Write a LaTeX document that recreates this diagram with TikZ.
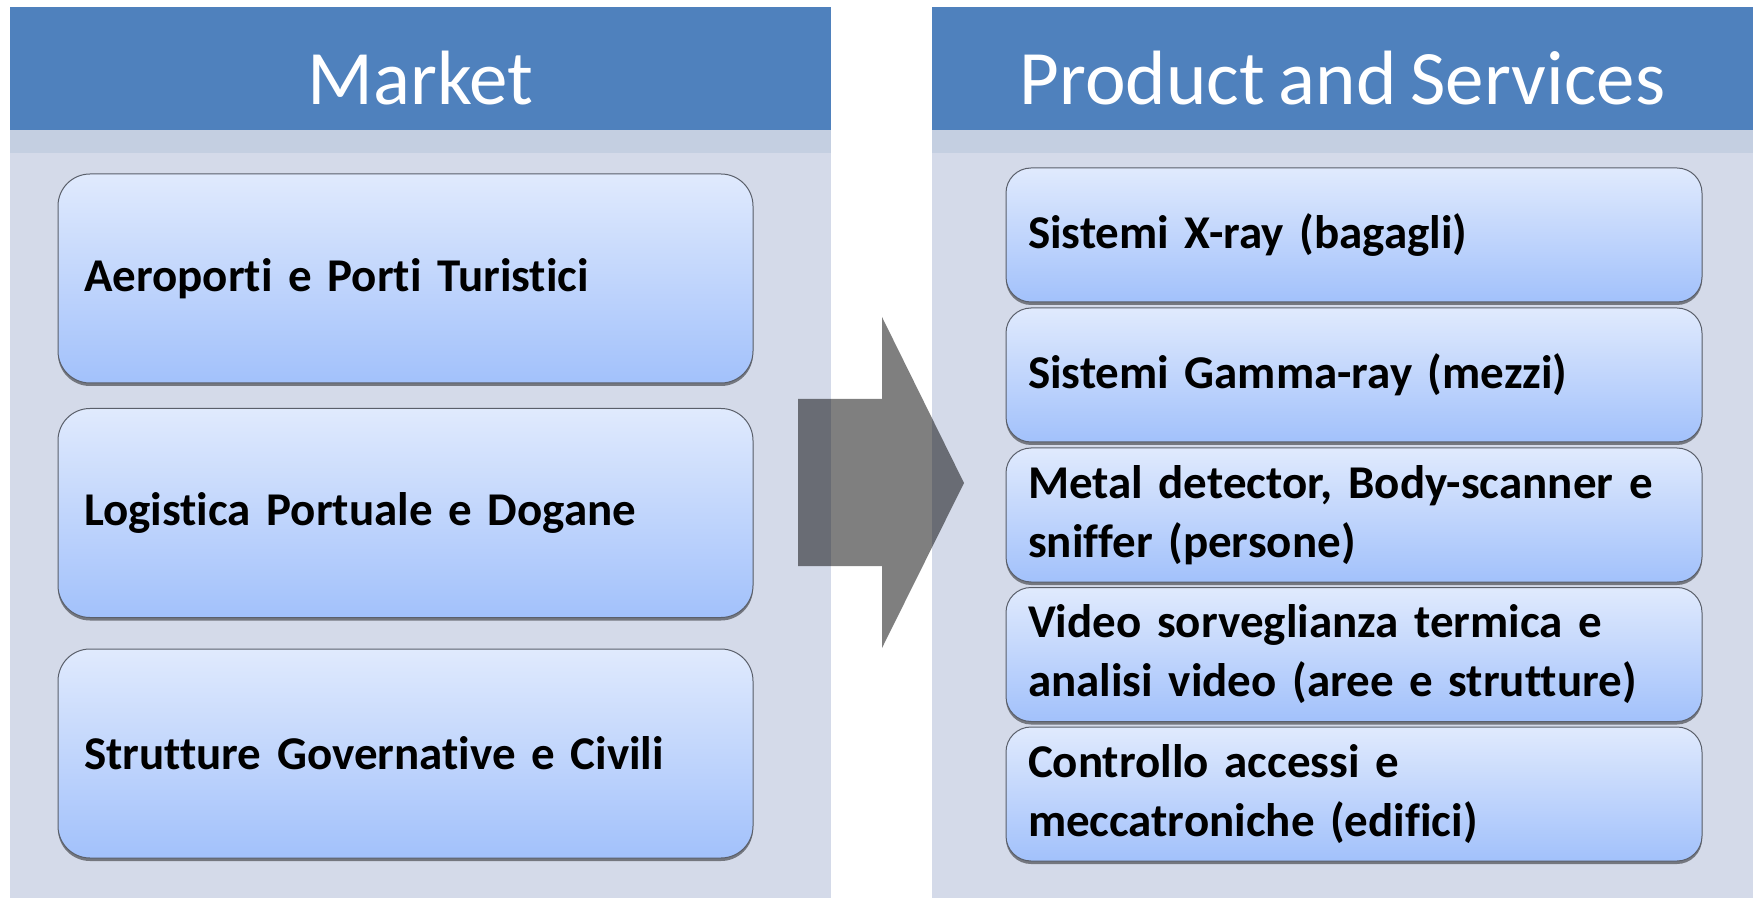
\documentclass[tikz,border=0pt]{standalone}
\usepackage{fontspec}
\setmainfont{Carlito}[Ligatures=NoCommon, WordSpace=0.8]
\usetikzlibrary{shadows}
\definecolor{hdrblue}{HTML}{4F81BD}
\definecolor{panelbg}{HTML}{D4DAE9}
\definecolor{stripbg}{HTML}{C4CFE1}
\definecolor{boxtop}{HTML}{E0EAFD}
\definecolor{boxbot}{HTML}{A2C1FB}
\definecolor{boxline}{HTML}{5A5F6A}
\tikzset{
  panel/.style={fill=panelbg, draw=none},
  header/.style={fill=hdrblue, draw=none},
  strip/.style={fill=stripbg, draw=none},
  title/.style={text=white, font=\fontsize{38.5}{46}\selectfont, inner sep=0pt},
  itembox/.style={draw=boxline, line width=0.5pt, top color=boxtop, bottom color=boxbot,
    align=left, anchor=center, inner xsep=0pt, inner ysep=0pt,
    font=\bfseries\fontsize{23.5}{29.5}\selectfont,
    drop shadow={shadow xshift=0pt, shadow yshift=-1.5pt, opacity=0.45, fill=black}},
  marketbox/.style={itembox, rounded corners=16pt, minimum width=347.5pt, minimum height=104.5pt,
    text width=321.5pt},
  prodbox/.style={itembox, rounded corners=12.5pt, minimum width=348pt, minimum height=67pt,
    text width=326pt},
  bigarrow/.style={fill=black, fill opacity=0.5, draw=none}
}
\begin{document}
\begin{tikzpicture}[x=0.5pt, y=-0.5pt]
\useasboundingbox (0,0) rectangle (1756,898);

% left column: Market
\fill[panel] (10,7) rectangle (831,898);
\fill[header] (10,7) rectangle (831,130);
\fill[strip] (10,130) rectangle (831,153);
\node[title] (mkt) at (420.5,78) {Market};

% right column: Product and Services
\fill[panel] (932,7) rectangle (1753,898);
\fill[header] (932,7) rectangle (1753,130);
\fill[strip] (932,130) rectangle (1753,153);
\node[title] (prod) at (1342.5,78) {Product and Services};

% market segments
\node[marketbox] (m1) at (405.5,278.5) {Aeroporti e Porti Turistici};
\node[marketbox] (m2) at (405.5,513) {Logistica Portuale e Dogane};
\node[marketbox] (m3) at (405.5,753.5) {Strutture Governative e Civili};

% products and services
\node[prodbox] (p1) at (1354,235) {Sistemi X-ray (bagagli)};
\node[prodbox] (p2) at (1354,375) {Sistemi Gamma-ray (mezzi)};
\node[prodbox] (p3) at (1354,515) {Metal detector, Body-scanner e\\sniffer (persone)};
\node[prodbox] (p4) at (1354,654.5) {Video sorveglianza termica e\\analisi video (aree e strutture)};
\node[prodbox] (p5) at (1354,794) {Controllo accessi e\\meccatroniche (edifici)};

% block arrow between the columns
\fill[bigarrow] (798,399) -- (882,399) -- (882,317) -- (964,483) -- (882,648) -- (882,566) -- (798,566) -- cycle;
\end{tikzpicture}
\end{document}
